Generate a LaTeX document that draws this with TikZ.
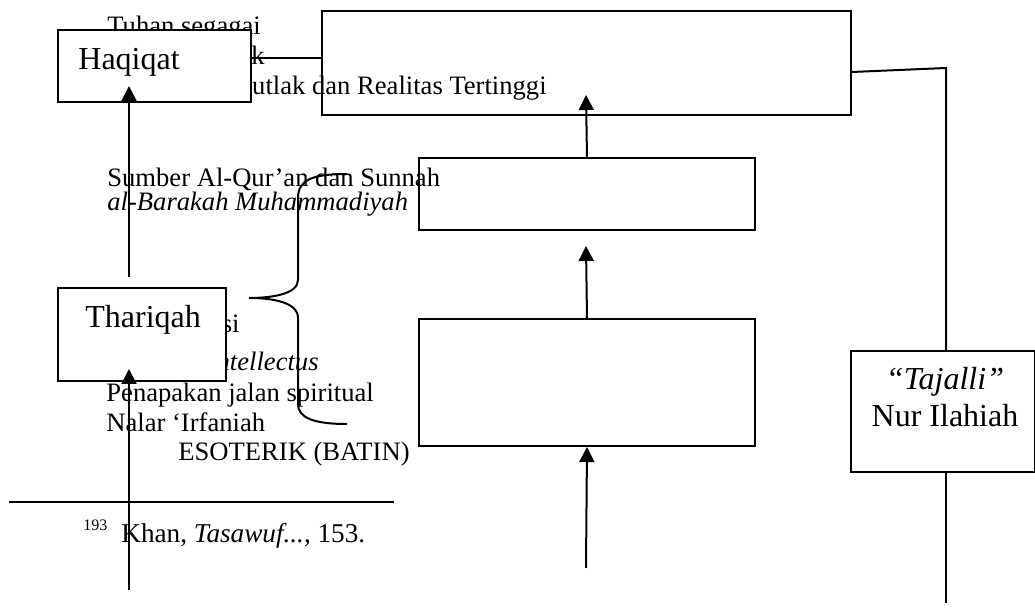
\documentclass[tikz,border=0pt]{standalone}
\usepackage{fontspec}
\setmainfont{Liberation Serif}
\usetikzlibrary{arrows.meta}
\begin{document}
\begin{tikzpicture}[x=0.5pt,y=-0.5pt,
  box/.style={draw,line width=1pt,rectangle,inner sep=0pt,anchor=north west},
  wbox/.style={box,fill=white},
  txt/.style={inner sep=0pt,anchor=base west,font=\fontsize{13.3}{15}\selectfont},
  txte/.style={txt,anchor=base east},
  big/.style={inner sep=0pt,anchor=base west,font=\fontsize{16}{19}\selectfont},
  bigc/.style={big,anchor=base},
  ln/.style={line width=1pt},
  arr/.style={line width=1pt,-{Triangle[length=7.5pt,width=7.5pt]}}]
\fill[white] (0,0) rectangle (1035,608);
\useasboundingbox (0,0) rectangle (1035,608);
% texts behind the boxes
\node[txt] (t1) at (107,35) {Tuhan segagai};
\node[txte] (t2) at (265,65) {Mutlak};
\node[txte] (t3) at (547,95) {Mutlak dan Realitas Tertinggi};
\node[txt] (t4) at (107,187) {Sumber Al-Qur’an dan Sunnah};
\node[txt] (t5) at (107,211) {\textit{al-Barakah Muhammadiyah}};
\node[txte] (t6) at (240,333) {Intuisi};
\node[txte] (t7) at (319,371) {\textit{Intellectus}};
\node[txt] (t8) at (106,402) {Penapakan jalan spiritual};
\node[txt] (t9) at (106,432) {Nalar ‘Irfaniah};
\node[txt] (t10) at (178,461) {ESOTERIK (BATIN)};
% boxes
\node[wbox,minimum width=96.5pt,minimum height=36pt] (haq) at (57,29) {};
\node[wbox,minimum width=84pt,minimum height=46.5pt] (tha) at (57,287) {};
\node[box,minimum width=264.5pt,minimum height=52pt] (top) at (321,10) {};
\node[box,minimum width=168pt,minimum height=36pt] (b2) at (418,157) {};
\node[box,minimum width=168pt,minimum height=63.5pt] (b3) at (418,318) {};
\node[wbox,minimum width=92pt,minimum height=60.5pt] (taj) at (850,350) {};
% box labels
\node[big] (haqt) at (78,70) {Haqiqat};
\node[big] (that) at (85,328) {Thariqah};
\node[bigc] (tajt1) at (945,390) {\textit{“Tajalli”}};
\node[bigc] (tajt2) at (945,427) {Nur Ilahiah};
% connectors
\draw[ln] (haq.east |- 0,58) -- (top.west |- 0,58);
\coordinate (rc) at (946,68);
\coordinate (rb) at (946,603);
\draw[ln] (top.east |- 0,72) -- (rc) -- (rc |- taj.north);
\draw[ln] (rb |- taj.south) -- (rb);
\coordinate (a1) at (586,95);
\coordinate (a2) at (586,246);
\coordinate (a3) at (586,568);
\draw[arr] (b2.north) -- (a1);
\draw[arr] (b3.north) -- (a2);
\draw[arr] (a3) -- (b3.south);
\coordinate (l1s) at (129,277);
\coordinate (l1t) at (129,86);
\coordinate (l2s) at (129,590);
\coordinate (l2t) at (129,369);
\draw[arr] (l1s) -- (l1t);
\draw[arr] (l2s) -- (l2t);
% brace
\draw[ln] (347,174) .. controls (312,174) and (298,180) .. (298,198)
  -- (298,280) .. controls (298,294) and (272,298) .. (249,298)
  .. controls (272,298) and (298,302) .. (298,318)
  -- (298,404) .. controls (298,418) and (314,424) .. (347,424);
% footnote
\coordinate (fa) at (9,502);
\coordinate (fb) at (394,502);
\draw[ln] (fa) -- (fb);
\node[inner sep=0pt,anchor=base west,font=\fontsize{8}{9}\selectfont] (fn) at (83,531) {193};
\node[txt,font=\fontsize{13.6}{15}\selectfont] (fnt) at (121,543) {Khan, \textit{Tasawuf...}, 153.};
\end{tikzpicture}
\end{document}
